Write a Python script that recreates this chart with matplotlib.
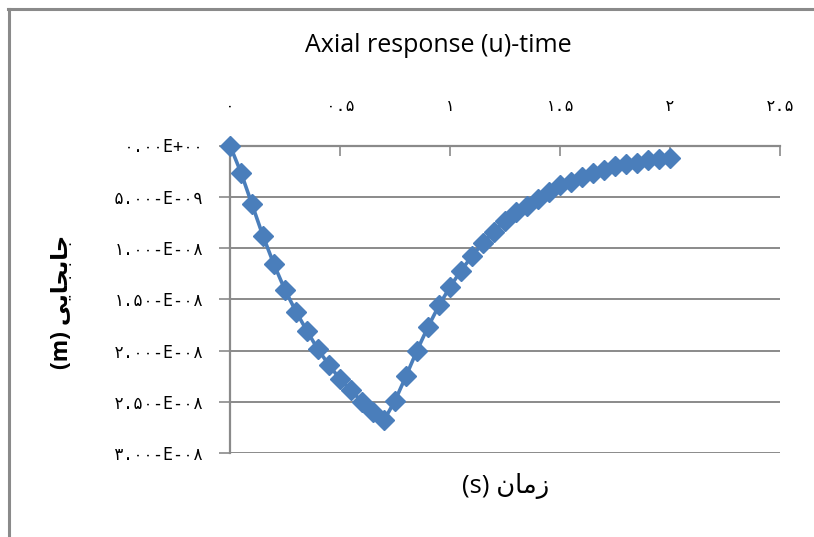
import matplotlib
matplotlib.use("Agg")
import matplotlib.pyplot as plt
from matplotlib.lines import Line2D
from matplotlib.ticker import FixedLocator, FixedFormatter

# ---- data ----
time_s = [0.00, 0.05, 0.10, 0.15, 0.20, 0.25, 0.30, 0.35, 0.40, 0.45,
          0.50, 0.55, 0.60, 0.65, 0.70, 0.75, 0.80, 0.85, 0.90, 0.95,
          1.00, 1.05, 1.10, 1.15, 1.20, 1.25, 1.30, 1.35, 1.40, 1.45,
          1.50, 1.55, 1.60, 1.65, 1.70, 1.75, 1.80, 1.85, 1.90, 1.95, 2.00]
disp_m = [0.0, 2.65e-9, 5.73e-9, 8.83e-9, 11.6e-9, 14.1e-9, 16.2e-9, 18.1e-9,
          19.9e-9, 21.4e-9, 22.8e-9, 23.9e-9, 25.0e-9, 26.0e-9, 26.8e-9,
          24.9e-9, 22.5e-9, 20.0e-9, 17.7e-9, 15.6e-9, 13.8e-9, 12.2e-9,
          10.8e-9, 9.5e-9, 8.4e-9, 7.35e-9, 6.5e-9, 5.9e-9, 5.2e-9, 4.5e-9,
          3.9e-9, 3.56e-9, 3.1e-9, 2.7e-9, 2.36e-9, 2.04e-9, 1.78e-9,
          1.68e-9, 1.46e-9, 1.3e-9, 1.2e-9]

x_ticks = [0, 0.5, 1.0, 1.5, 2.0, 2.5]
x_tick_labels = ["۰", "۰.۵", "۱", "۱.۵", "۲", "۲.۵"]
y_ticks = [0, 5e-9, 1e-8, 1.5e-8, 2e-8, 2.5e-8, 3e-8]
y_tick_labels = ["۰.۰۰E+۰۰", "۵.۰۰-E-۰۹", "۱.۰۰-E-۰۸", "۱.۵۰-E-۰۸",
                 "۲.۰۰-E-۰۸", "۲.۵۰-E-۰۸", "۳.۰۰-E-۰۸"]

title = "Axial response (u)-time"
# visually ordered, pre-shaped Persian text
x_label = "(s) " + "\uFEE5\uFE8E\uFEE3\uFEAF"          # زمان (s)
y_label = "(m) " + "\uFEF0\uFEF3\uFE8E\uFEA0\uFE91\uFE8E\uFE9F"  # جابجایی (m)

FAM = ["Open Sans", "DejaVu Sans"]
TICK_FAM = ["DejaVu Sans Mono", "DejaVu Sans"]
plt.rcParams["font.family"] = FAM

W, H = 814, 537
fig = plt.figure(figsize=(W / 100, H / 100), dpi=100)
fig.patch.set_facecolor("white")

left, right, top, bottom = 230, 780, 145.5, 453
ax = fig.add_axes([left / W, 1 - bottom / H, (right - left) / W, (bottom - top) / H])

grid_c = "#8a8a8a"
line_c = "#4A7EBB"

ax.plot(time_s, disp_m, color=line_c, lw=2.6, marker="D", ms=10.5,
        markeredgecolor=line_c, markerfacecolor=line_c, zorder=3, clip_on=False)

ax.set_xlim(0, 2.5)
ax.set_ylim(3e-8, 0)

ax.xaxis.set_major_locator(FixedLocator(x_ticks))
ax.xaxis.set_major_formatter(FixedFormatter(x_tick_labels))
ax.yaxis.set_major_locator(FixedLocator(y_ticks))
ax.yaxis.set_major_formatter(FixedFormatter(y_tick_labels))

ax.xaxis.tick_top()
ax.tick_params(axis="x", direction="in", length=7, width=1.2, color=grid_c,
               pad=23, labelsize=11.5, labelcolor="black")
ax.tick_params(axis="y", direction="out", length=8, width=1.2, color=grid_c,
               pad=11, labelsize=12, labelcolor="black")
for lab in ax.get_xticklabels() + ax.get_yticklabels():
    lab.set_family(TICK_FAM)

for s in ["right", "bottom"]:
    ax.spines[s].set_visible(False)
ax.spines["top"].set_color(grid_c)
ax.spines["top"].set_linewidth(1.6)
ax.spines["left"].set_color(grid_c)
ax.spines["left"].set_linewidth(1.6)

ax.yaxis.grid(True, color=grid_c, lw=1.4)
ax.set_axisbelow(True)

fig.text(438 / W, 1 - 45 / H, title, ha="center", va="center", fontsize=18)
fig.text(506 / W, 1 - 486 / H, x_label, ha="center", va="center", fontsize=18.5)
fig.text(62 / W, 1 - 302 / H, y_label, ha="center", va="center", fontsize=16.5,
         rotation=90, fontweight="bold")

# chart area border (continues beyond the image at right and bottom)
fig.add_artist(Line2D([9 / W, 9 / W], [0, 1 - 9 / H], color=grid_c, lw=2.2,
                      transform=fig.transFigure))
fig.add_artist(Line2D([8 / W, 1], [1 - 9 / H, 1 - 9 / H], color=grid_c, lw=2.2,
                      transform=fig.transFigure))

fig.savefig("out.png", dpi=100)
